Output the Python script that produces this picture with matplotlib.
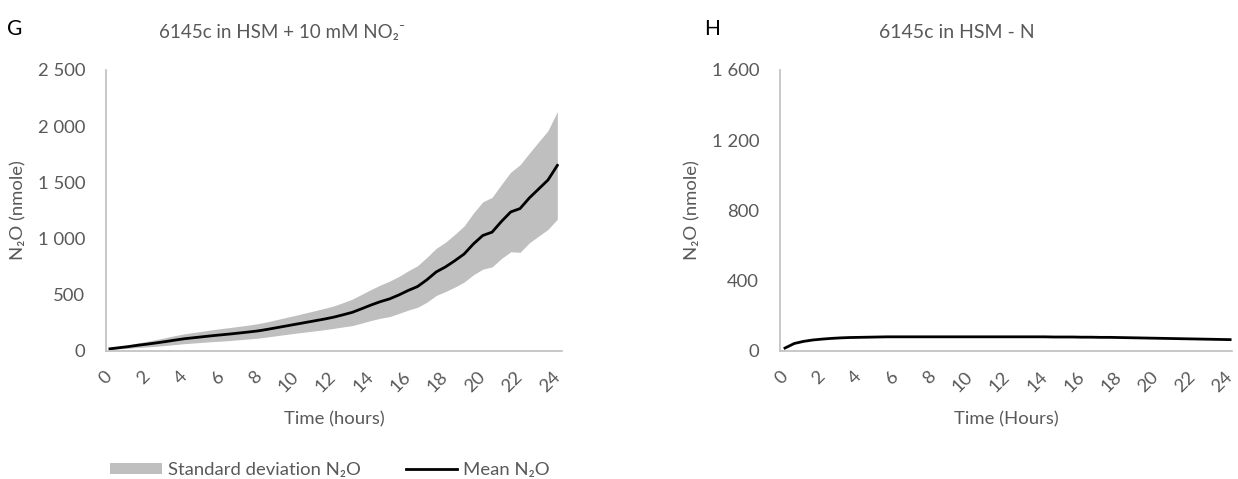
import matplotlib
matplotlib.use("Agg")
import matplotlib.pyplot as plt
from matplotlib.patches import Patch
from matplotlib.lines import Line2D
import numpy as np

plt.rcParams['font.family'] = ['Lato', 'DejaVu Sans']

# time points (hours, every half hour)
hours = np.arange(0, 24.5, 0.5)

# G: 6145c in HSM + 10 mM NO2-
mean_g = [15, 25, 35, 47, 57, 68, 80, 93, 105, 114,
          123, 132, 140, 148, 157, 166, 176, 190, 205, 220,
          235, 250, 265, 280, 297, 318, 340, 372, 405, 435,
          460, 495, 535, 570, 630, 700, 745, 800, 860, 950,
          1025, 1055, 1150, 1235, 1265, 1360, 1440, 1520, 1650]
sd_g = [5, 10, 15, 20, 25, 30, 35, 40, 44, 47,
        50, 53, 56, 58, 60, 62, 65, 68, 72, 76,
        80, 85, 90, 95, 100, 108, 118, 128, 138, 148,
        158, 165, 175, 185, 200, 210, 220, 235, 250, 275,
        300, 310, 330, 355, 390, 400, 420, 440, 480]

# H: 6145c in HSM - N
mean_h = [14, 40, 52, 60, 65, 69, 72, 74, 75, 76,
          77, 78, 78, 78, 78, 78, 78, 78, 78, 78,
          78, 78, 78, 78, 78, 78, 78, 78, 78, 77,
          77, 77, 76, 76, 75, 75, 74, 73, 72, 71,
          70, 69, 68, 67, 66, 65, 64, 63, 62]

xtick_vals = list(range(0, 25, 2))
yticks_g = [0, 500, 1000, 1500, 2000, 2500]
yticks_h = [0, 400, 800, 1200, 1600]

W, H = 1238, 479
grey_txt = '#595959'
spine_col = '#BFBFBF'
band_col = '#BFBFBF'
fs = 13.3

fig = plt.figure(figsize=(W / 100, H / 100), dpi=100)


def fmt(v):
    return f"{v:,}".replace(",", " ")


def style_axes(ax, yticks, ylim, xlim):
    ax.set_xlim(*xlim)
    ax.set_ylim(*ylim)
    for s in ['top', 'right']:
        ax.spines[s].set_visible(False)
    for s in ['left', 'bottom']:
        ax.spines[s].set_color(spine_col)
        ax.spines[s].set_linewidth(1.2)
    ax.set_yticks(yticks)
    ax.set_yticklabels([fmt(v) for v in yticks], color=grey_txt, fontsize=fs)
    ax.set_xticks(xtick_vals)
    ax.set_xticklabels([str(v) for v in xtick_vals], color=grey_txt, fontsize=fs,
                       rotation=45, ha='right', va='center', rotation_mode='anchor')
    ax.tick_params(axis='both', length=0)
    ax.tick_params(axis='y', pad=15)
    ax.tick_params(axis='x', pad=17)


# left panel
ax1 = fig.add_axes([106 / W, (H - 350.5) / H, (562 - 106) / W, (350.5 - 70) / H])
lo = np.array(mean_g) - np.array(sd_g)
hi = np.array(mean_g) + np.array(sd_g)
ax1.fill_between(hours, lo, hi, color=band_col, lw=0)
ax1.plot(hours, mean_g, color='black', lw=2.0)
style_axes(ax1, yticks_g, (0, 2500), (-0.21, 24.25))
ax1.set_ylabel('N₂O (nmole)', color=grey_txt, fontsize=fs, labelpad=8)
ax1.set_xlabel('Time (hours)', color=grey_txt, fontsize=fs, labelpad=12)

# right panel
ax2 = fig.add_axes([780 / W, (H - 350.5) / H, (1232 - 780) / W, (350.5 - 70) / H])
ax2.plot(hours, mean_h, color='black', lw=2.0)
style_axes(ax2, yticks_h, (0, 1600), (-0.27, 24.1))
ax2.set_ylabel('N₂O (nmole)', color=grey_txt, fontsize=fs, labelpad=8)
ax2.set_xlabel('Time (Hours)', color=grey_txt, fontsize=fs, labelpad=12)

# titles and panel letters
fig.text(282 / W, 1 - 32 / H, '6145c in HSM + 10 mM NO₂⁻', color=grey_txt,
         fontsize=13.5, ha='center', va='center')
fig.text(957 / W, 1 - 32 / H, '6145c in HSM - N', color=grey_txt,
         fontsize=14, ha='center', va='center')
fig.text(7 / W, 1 - 29 / H, 'G', color='black', fontsize=15, ha='left', va='center')
fig.text(704 / W, 1 - 29 / H, 'H', color='black', fontsize=15, ha='left', va='center')

# legend
handles = [Patch(facecolor=band_col, edgecolor='none'),
           Line2D([0], [0], color='black', lw=2.0)]
labels = ['Standard deviation N₂O', 'Mean N₂O']
leg = fig.legend(handles, labels, loc='center', bbox_to_anchor=(330 / W, 1 - 470 / H),
                 ncol=2, frameon=False, fontsize=fs, handlelength=2.8,
                 handletextpad=0.3, columnspacing=2.45, handleheight=0.6)
for t in leg.get_texts():
    t.set_color(grey_txt)

fig.savefig('out.png', dpi=100)
